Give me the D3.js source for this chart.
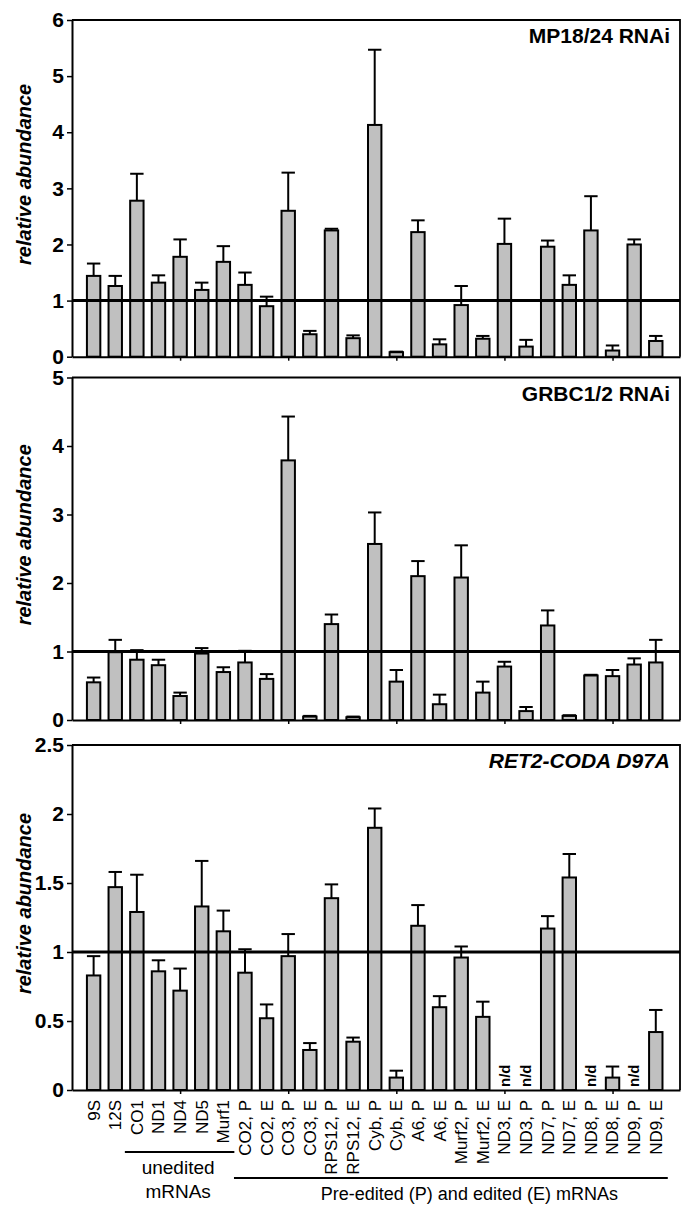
<!DOCTYPE html>
<html>
<head>
<meta charset="utf-8">
<script src="https://cdn.jsdelivr.net/npm/d3@7"></script>
<style>
  html, body { margin: 0; padding: 0; background: #fff; }
  svg { display: block; font-family: "Liberation Sans", Arial, sans-serif; }
</style>
</head>
<body>
<svg id="chart" width="700" height="1221"></svg>
<script>
const categories = ["9S","12S","CO1","ND1","ND4","ND5","Murf1","CO2, P","CO2, E","CO3, P","CO3, E","RPS12, P","RPS12, E","Cyb, P","Cyb, E","A6, P","A6, E","Murf2, P","Murf2, E","ND3, E","ND3, P","ND7, P","ND7, E","ND8, P","ND8, E","ND9, P","ND9, E"];

// MP18/24 RNAi
const mp18Values = [1.44,1.26,2.78,1.32,1.78,1.19,1.69,1.28,0.90,2.60,0.40,2.25,0.33,4.13,0.08,2.22,0.22,0.92,0.32,2.01,0.18,1.96,1.28,2.25,0.11,2.00,0.28];
const mp18Errors = [0.22,0.18,0.48,0.13,0.31,0.13,0.28,0.22,0.17,0.68,0.06,0.03,0.05,1.34,0.01,0.21,0.09,0.34,0.05,0.45,0.12,0.11,0.17,0.61,0.09,0.09,0.09];

// GRBC1/2 RNAi
const grbcValues = [0.55,0.99,0.88,0.80,0.35,0.97,0.70,0.84,0.60,3.79,0.05,1.40,0.04,2.57,0.56,2.10,0.23,2.08,0.40,0.78,0.13,1.38,0.06,0.65,0.64,0.81,0.84];
const grbcErrors = [0.07,0.18,0.14,0.08,0.05,0.08,0.07,0.17,0.07,0.64,0.01,0.14,0.01,0.46,0.17,0.22,0.14,0.47,0.16,0.07,0.06,0.22,0.01,0.01,0.09,0.09,0.33];

// RET2-CODA D97A (null = n/d)
const ret2Values = [0.83,1.47,1.29,0.86,0.72,1.33,1.15,0.85,0.52,0.97,0.29,1.39,0.35,1.90,0.09,1.19,0.60,0.96,0.53,null,null,1.17,1.54,null,0.09,null,0.42];
const ret2Errors = [0.14,0.11,0.27,0.08,0.16,0.33,0.15,0.17,0.10,0.16,0.05,0.10,0.03,0.14,0.05,0.15,0.08,0.08,0.11,null,null,0.09,0.17,null,0.08,null,0.16];

const ticks1 = [0,1,2,3,4,5,6];
const ticks2 = [0,1,2,3,4,5];
const ticks3 = [0,0.5,1,1.5,2,2.5];
const xTickValues = [5,10,15,20,25];
const titles = ["MP18/24 RNAi","GRBC1/2 RNAi","RET2-CODA D97A"];
const groupUnedited = "unedited";
const groupUnedited2 = "mRNAs";
const groupEdited = "Pre-edited (P) and edited (E) mRNAs";
const yLabel = "relative abundance";
const ndLabel = "n/d";

const svg = d3.select("#chart");
const left = 72, right = 680;
const x = d3.scaleLinear().domain([0, 28.12]).range([left, right]);
const barW = 13.4;

const panels = [
  {title: titles[0], italic: false, values: mp18Values, errors: mp18Errors, ticks: ticks1, max: 6, top: 20, bottom: 356.7},
  {title: titles[1], italic: false, values: grbcValues, errors: grbcErrors, ticks: ticks2, max: 5, top: 377.5, bottom: 720},
  {title: titles[2], italic: true, values: ret2Values, errors: ret2Errors, ticks: ticks3, max: 2.5, top: 745, bottom: 1090}
];

panels.forEach(p => {
  const y = d3.scaleLinear().domain([0, p.max]).range([p.bottom, p.top]);
  const g = svg.append("g");

  // frame top & right
  g.append("path")
    .attr("d", `M${left},${p.top}H${right}V${p.bottom}`)
    .attr("fill", "none").attr("stroke", "#000").attr("stroke-width", 1.8);

  const data = categories.map((c, i) => ({c, i: i + 1, v: p.values[i], e: p.errors[i]}));
  const present = data.filter(d => d.v !== null);

  // bars
  g.selectAll("rect.bar").data(present).enter().append("rect")
    .attr("x", d => x(d.i) - barW / 2)
    .attr("width", barW)
    .attr("y", d => y(d.v))
    .attr("height", d => y(0) - y(d.v))
    .attr("fill", "#c0c0c0")
    .attr("stroke", "#000")
    .attr("stroke-width", 2);

  // error bars (upper only)
  const eb = g.selectAll("g.err").data(present).enter().append("g");
  eb.append("line")
    .attr("x1", d => x(d.i)).attr("x2", d => x(d.i))
    .attr("y1", d => y(d.v)).attr("y2", d => y(d.v + d.e))
    .attr("stroke", "#000").attr("stroke-width", 2);
  eb.append("line")
    .attr("x1", d => x(d.i) - barW / 2).attr("x2", d => x(d.i) + barW / 2)
    .attr("y1", d => y(d.v + d.e)).attr("y2", d => y(d.v + d.e))
    .attr("stroke", "#000").attr("stroke-width", 2);

  // n/d labels
  g.selectAll("text.nd").data(data.filter(d => d.v === null)).enter().append("text")
    .attr("transform", d => `translate(${x(d.i)},${y(0) - 3}) rotate(-90)`)
    .attr("dy", "0.35em")
    .attr("text-anchor", "start")
    .attr("font-size", 15).attr("font-weight", "bold")
    .text(ndLabel);

  // reference line at 1
  g.append("line")
    .attr("x1", left).attr("x2", right)
    .attr("y1", y(1)).attr("y2", y(1))
    .attr("stroke", "#000").attr("stroke-width", 3);

  // y axis
  const ya = g.append("g").attr("transform", `translate(${left},0)`)
    .call(d3.axisLeft(y).tickValues(p.ticks).tickSize(5).tickSizeOuter(0).tickFormat(d3.format("")));
  ya.select(".domain").attr("stroke-width", 2);
  ya.selectAll(".tick line").attr("stroke-width", 1.5);
  ya.selectAll(".tick text").attr("font-size", 21).attr("font-weight", "bold")
    .attr("font-family", "'Liberation Sans', Arial, sans-serif").attr("x", -8);

  // x axis
  const xa = g.append("g").attr("transform", `translate(0,${p.bottom})`)
    .call(d3.axisBottom(x).tickValues(xTickValues).tickSize(4).tickSizeOuter(0).tickFormat(""));
  xa.select(".domain").attr("stroke-width", 2);
  xa.selectAll(".tick line").attr("stroke-width", 1.5);

  // title
  g.append("text")
    .attr("x", 670).attr("y", p.top + 23)
    .attr("text-anchor", "end")
    .attr("font-size", 21).attr("font-weight", "bold")
    .attr("font-style", p.italic ? "italic" : "normal")
    .text(p.title);

  // y label
  g.append("text")
    .attr("transform", `translate(31,${(p.top + p.bottom) / 2 - 14}) rotate(-90)`)
    .attr("text-anchor", "middle")
    .attr("font-size", 20).attr("font-weight", "bold").attr("font-style", "italic")
    .text(yLabel);
});

// category labels under bottom panel
const yBase = panels[2].bottom;
svg.append("g").selectAll("text").data(categories).enter().append("text")
  .attr("transform", (d, i) => `translate(${x(i + 1)},${yBase + 10}) rotate(-90)`)
  .attr("dy", "0.35em")
  .attr("text-anchor", "end")
  .attr("font-size", 17)
  .text(d => d);

// group annotations
svg.append("line").attr("x1", x(3) - 12).attr("x2", x(7) + 11)
  .attr("y1", 1152).attr("y2", 1152).attr("stroke", "#000").attr("stroke-width", 1.8);
svg.append("text").attr("x", x(5) - 2).attr("y", 1174).attr("text-anchor", "middle")
  .attr("font-size", 19).text(groupUnedited);
svg.append("text").attr("x", x(5) - 2).attr("y", 1198).attr("text-anchor", "middle")
  .attr("font-size", 19).text(groupUnedited2);
svg.append("line").attr("x1", x(8) - 11).attr("x2", x(27) + 12)
  .attr("y1", 1178).attr("y2", 1178).attr("stroke", "#000").attr("stroke-width", 1.8);
svg.append("text").attr("x", (x(8) + x(27)) / 2 + 19).attr("y", 1200).attr("text-anchor", "middle")
  .attr("font-size", 18).text(groupEdited);
</script>
</body>
</html>
